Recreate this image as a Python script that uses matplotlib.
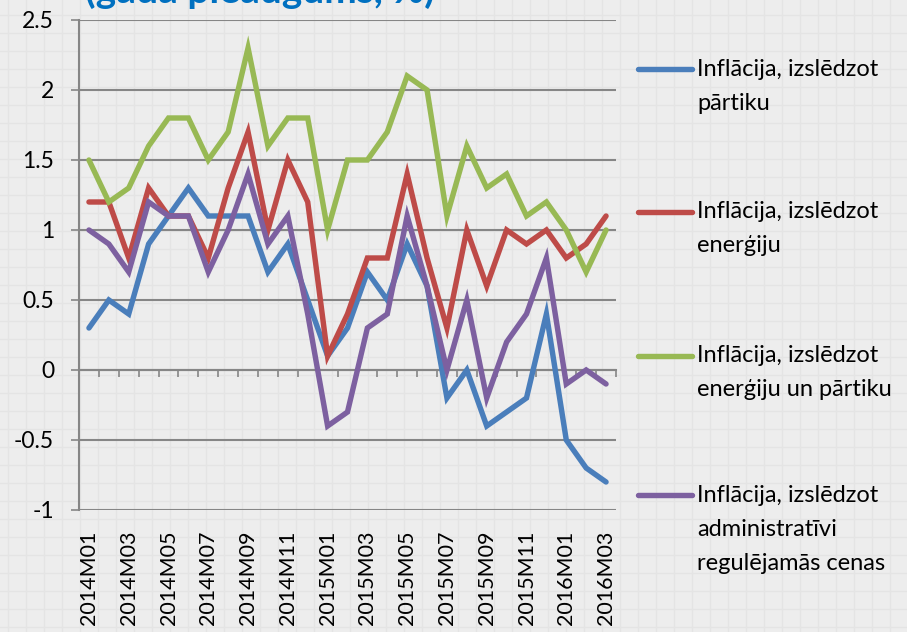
import matplotlib.pyplot as plt
from matplotlib.lines import Line2D

# months 2014M01 .. 2016M03
months = ['2014M01', '2014M02', '2014M03', '2014M04', '2014M05', '2014M06', '2014M07',
          '2014M08', '2014M09', '2014M10', '2014M11', '2014M12', '2015M01', '2015M02',
          '2015M03', '2015M04', '2015M05', '2015M06', '2015M07', '2015M08', '2015M09',
          '2015M10', '2015M11', '2015M12', '2016M01', '2016M02', '2016M03']

excl_food = [0.3, 0.5, 0.4, 0.9, 1.1, 1.3, 1.1, 1.1, 1.1, 0.7, 0.9, 0.5, 0.1, 0.3,
             0.7, 0.5, 0.9, 0.6, -0.2, 0.0, -0.4, -0.3, -0.2, 0.4, -0.5, -0.7, -0.8]
excl_energy = [1.2, 1.2, 0.8, 1.3, 1.1, 1.1, 0.8, 1.3, 1.7, 1.0, 1.5, 1.2, 0.1, 0.4,
               0.8, 0.8, 1.4, 0.8, 0.3, 1.0, 0.6, 1.0, 0.9, 1.0, 0.8, 0.9, 1.1]
excl_energy_food = [1.5, 1.2, 1.3, 1.6, 1.8, 1.8, 1.5, 1.7, 2.3, 1.6, 1.8, 1.8, 1.0, 1.5,
                    1.5, 1.7, 2.1, 2.0, 1.1, 1.6, 1.3, 1.4, 1.1, 1.2, 1.0, 0.7, 1.0]
excl_admin = [1.0, 0.9, 0.7, 1.2, 1.1, 1.1, 0.7, 1.0, 1.4, 0.9, 1.1, 0.4, -0.4, -0.3,
              0.3, 0.4, 1.1, 0.6, 0.0, 0.5, -0.2, 0.2, 0.4, 0.8, -0.1, 0.0, -0.1]

series = [excl_food, excl_energy, excl_energy_food, excl_admin]
labels = [['Inflācija, izslēdzot', 'pārtiku'],
          ['Inflācija, izslēdzot', 'enerģiju'],
          ['Inflācija, izslēdzot', 'enerģiju un pārtiku'],
          ['Inflācija, izslēdzot', 'administratīvi', 'regulējamās cenas']]
colors = ['#4A7EBB', '#BE4B48', '#98B954', '#7D60A0']
yticks = [-1, -0.5, 0, 0.5, 1, 1.5, 2, 2.5]
ytick_labels = ['-1', '-0.5', '0', '0.5', '1', '1.5', '2', '2.5']
title = '(gada pieaugums, %)'

plt.rcParams['font.family'] = ['Lato', 'DejaVu Sans']

W, H = 907, 632
fig = plt.figure(figsize=(W / 100, H / 100), dpi=100)
fig.patch.set_facecolor('#EDEDED')

# faint squared paper pattern in the background
for px in range(8, W, 18):
    fig.add_artist(Line2D([px / W, px / W], [0, 1], color='#E4E4E4', lw=1, zorder=0))
for py in range(5, H, 18):
    fig.add_artist(Line2D([0, 1], [py / H, py / H], color='#E4E4E4', lw=1, zorder=0))

ax = fig.add_axes([79 / W, (H - 510) / H, (616 - 79) / W, 490 / H])
ax.set_facecolor('none')

x = list(range(len(months)))
for vals, col in zip(series, colors):
    ax.plot(x, vals, color=col, lw=3.9, solid_joinstyle='miter', solid_capstyle='round', zorder=3)

ax.set_xlim(-0.5, len(months) - 0.5)
ax.set_ylim(-1, 2.5)
ax.set_yticks(yticks)
ax.set_yticklabels(ytick_labels, fontsize=16.5)
ax.yaxis.grid(True, color='#868686', lw=1.5)
ax.set_axisbelow(True)
ax.tick_params(axis='y', length=6, width=1.2, color='#868686', pad=12)

for s in ['top', 'right', 'bottom']:
    ax.spines[s].set_visible(False)
ax.spines['left'].set_color('#868686')
ax.spines['left'].set_linewidth(1.5)

ax.set_xticks(x[::2])
ax.set_xticklabels(months[::2], rotation=90, fontsize=15.5)
ax.tick_params(axis='x', length=0, pad=15)

# category axis crossing at zero with boundary tick marks
zero_pos = (0 - (-1)) / 3.5
sec = ax.secondary_xaxis(zero_pos)
sec.set_xticks([i - 0.5 for i in range(len(months) + 1)])
sec.set_xticklabels([])
sec.tick_params(length=5, width=1.2, color='#868686', direction='out')
sec.spines['bottom'].set_color('#868686')
sec.spines['bottom'].set_linewidth(1.5)

# legend on the right
leg_y = [69, 212, 356, 495]
for ly, lines, col in zip(leg_y, labels, colors):
    fig.add_artist(Line2D([638 / W, 692 / W], [(H - ly) / H] * 2, color=col, lw=3.9,
                          solid_capstyle='round'))
    for k, txt in enumerate(lines):
        fig.text(697 / W, (H - ly - 34 * k) / H, txt, fontsize=17, va='center', ha='left')

fig.text(85 / W, (H - 3) / H, title, fontsize=28, fontweight='bold', color='#0070C0',
         va='baseline', ha='left')

fig.savefig('out.png', dpi=100, facecolor=fig.get_facecolor())
